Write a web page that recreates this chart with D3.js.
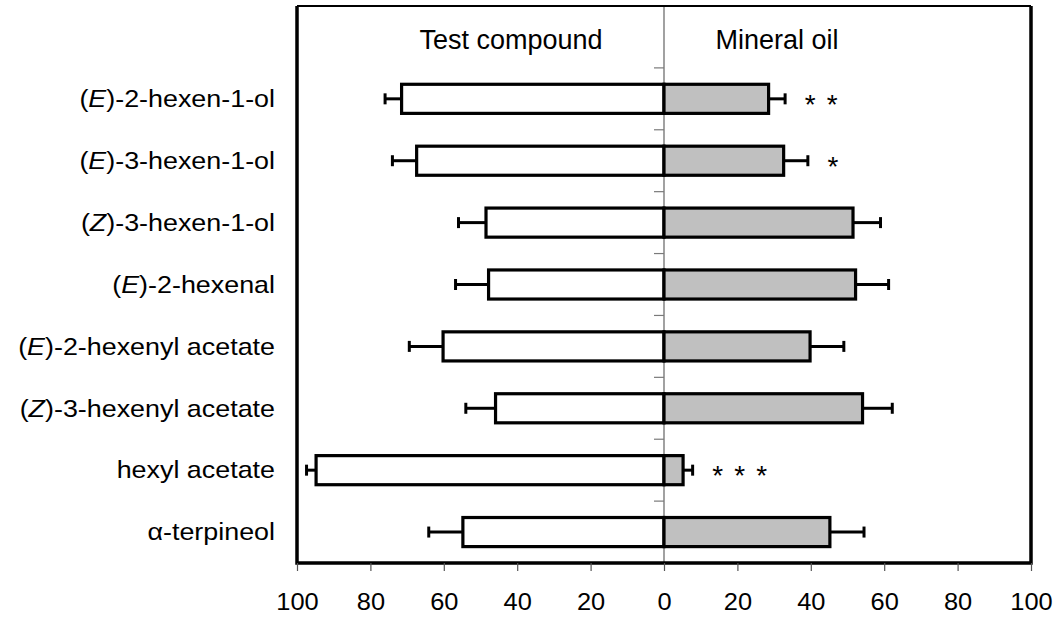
<!DOCTYPE html>
<html>
<head>
<meta charset="utf-8">
<script src="https://cdn.jsdelivr.net/npm/d3@7"></script>
<style>
  html, body { margin: 0; padding: 0; background: #fff; }
  svg { display: block; font-family: "Liberation Sans", Arial, Helvetica, sans-serif; }
</style>
</head>
<body>
<svg id="chart" width="1063" height="617"></svg>
<script>
// Compounds tested against the mineral-oil control (percent choice, mean ± SE)
const categories = [
  "(E)-2-hexen-1-ol",
  "(E)-3-hexen-1-ol",
  "(Z)-3-hexen-1-ol",
  "(E)-2-hexenal",
  "(E)-2-hexenyl acetate",
  "(Z)-3-hexenyl acetate",
  "hexyl acetate",
  "α-terpineol"
];
const testCompound = [71.5, 67.4, 48.5, 47.8, 60.2, 45.9, 94.8, 54.8];
const mineralOil   = [28.5, 32.6, 51.5, 52.2, 39.8, 54.1, 5.2, 45.2];
const stdErr       = [4.5, 6.6, 7.5, 9.0, 9.2, 8.1, 2.6, 9.3];
const significance = ["**", "*", "", "", "", "", "***", ""];
const tickValues   = [-100, -80, -60, -40, -20, 0, 20, 40, 60, 80, 100];
const sideHeaders  = ["Test compound", "Mineral oil"];

const svg = d3.select("#chart");
const frame = { left: 297, right: 1031, top: 6, bottom: 563 };

// Test compound plotted to the left (negative), mineral oil to the right
const x = d3.scaleLinear().domain([-100, 100]).range([frame.left, frame.right]);

// First slot is left empty for the column headers
const y = d3.scaleBand()
  .domain(["__header__", ...categories])
  .range([frame.top, frame.bottom])
  .paddingInner(0.53)
  .paddingOuter(0.265);

const rows = categories.map((c, i) => ({
  name: c, test: testCompound[i], oil: mineralOil[i], se: stdErr[i], sig: significance[i]
}));

const slotTop = c => y(c) - y.step() * y.paddingOuter();
const mid = c => y(c) + y.bandwidth() / 2;

// Zero line and the small separators between rows
svg.append("line")
  .attr("x1", x(0)).attr("x2", x(0))
  .attr("y1", frame.top).attr("y2", frame.bottom)
  .attr("stroke", "#7a7a7a").attr("stroke-width", 1.4);

svg.append("g").selectAll("line")
  .data(categories)
  .join("line")
  .attr("x1", x(0) - 10).attr("x2", x(0))
  .attr("y1", d => slotTop(d)).attr("y2", d => slotTop(d))
  .attr("stroke", "#7a7a7a").attr("stroke-width", 1.2);

// Error bars (outer side only)
const errG = svg.append("g").attr("stroke", "#000").attr("stroke-width", 3);
rows.forEach(r => {
  const cy = mid(r.name);
  const capH = 11;
  const lx0 = x(-r.test), lx1 = x(-(r.test + r.se));
  const rx0 = x(r.oil), rx1 = x(r.oil + r.se);
  errG.append("line").attr("x1", lx0).attr("x2", lx1).attr("y1", cy).attr("y2", cy);
  errG.append("line").attr("x1", lx1).attr("x2", lx1).attr("y1", cy - capH / 2).attr("y2", cy + capH / 2);
  errG.append("line").attr("x1", rx0).attr("x2", rx1).attr("y1", cy).attr("y2", cy);
  errG.append("line").attr("x1", rx1).attr("x2", rx1).attr("y1", cy - capH / 2).attr("y2", cy + capH / 2);
});

// Bars
svg.append("g").selectAll("rect")
  .data(rows)
  .join("rect")
  .attr("x", d => x(-d.test))
  .attr("width", d => x(0) - x(-d.test))
  .attr("y", d => y(d.name))
  .attr("height", y.bandwidth())
  .attr("fill", "#fff")
  .attr("stroke", "#000").attr("stroke-width", 3.2);

svg.append("g").selectAll("rect")
  .data(rows)
  .join("rect")
  .attr("x", x(0))
  .attr("width", d => x(d.oil) - x(0))
  .attr("y", d => y(d.name))
  .attr("height", y.bandwidth())
  .attr("fill", "#c0c0c0")
  .attr("stroke", "#000").attr("stroke-width", 3.2);

// Significance stars
const starG = svg.append("g");
rows.forEach(r => {
  const startX = x(r.oil + r.se) + 25;
  r.sig.split("").forEach((s, k) => {
    starG.append("text")
      .attr("x", startX + k * 22)
      .attr("y", mid(r.name) + 15)
      .attr("text-anchor", "middle")
      .attr("font-size", 28)
      .attr("fill", "#000")
      .text(s);
  });
});

// Frame
svg.append("path")
  .attr("d", `M${frame.left},${frame.top} V${frame.bottom} H${frame.right} V${frame.top}`)
  .attr("fill", "none").attr("stroke", "#000").attr("stroke-width", 3.5);
svg.append("line")
  .attr("x1", frame.left).attr("x2", frame.right)
  .attr("y1", frame.top).attr("y2", frame.top)
  .attr("stroke", "#000").attr("stroke-width", 2.2);

// Bottom axis
const axis = svg.append("g")
  .attr("transform", `translate(0,${frame.bottom})`)
  .call(d3.axisBottom(x).tickValues(tickValues).tickFormat(d => Math.abs(d)).tickSize(8).tickPadding(0));
axis.select(".domain").remove();
axis.selectAll(".tick line").attr("stroke", "#555").attr("stroke-width", 1.2);
axis.selectAll(".tick text")
  .attr("y", 0).attr("dy", null)
  .attr("fill", "#000")
  .attr("font-size", 24)
  .attr("font-family", "Liberation Sans, Arial, sans-serif")
  .attr("transform", "translate(0,47) scale(1.06,1)");

// Category labels with italic stereo descriptors
const labelG = svg.append("g");
categories.forEach(c => {
  const t = labelG.append("text")
    .attr("text-anchor", "end")
    .attr("font-size", 24)
    .attr("fill", "#000")
    .attr("transform", `translate(275,${mid(c) + 8.3}) scale(1.12,1)`);
  const m = c.match(/^\((E|Z)\)(.*)$/);
  if (m) {
    t.append("tspan").text("(");
    t.append("tspan").attr("font-style", "italic").text(m[1]);
    t.append("tspan").text(")" + m[2]);
  } else {
    t.text(c);
  }
});

// Column headers
svg.append("text")
  .attr("x", x(-41.7)).attr("y", 49)
  .attr("text-anchor", "middle").attr("font-size", 27).attr("fill", "#000")
  .text(sideHeaders[0]);
svg.append("text")
  .attr("x", x(30.8)).attr("y", 49)
  .attr("text-anchor", "middle").attr("font-size", 27).attr("fill", "#000")
  .text(sideHeaders[1]);
</script>
</body>
</html>
